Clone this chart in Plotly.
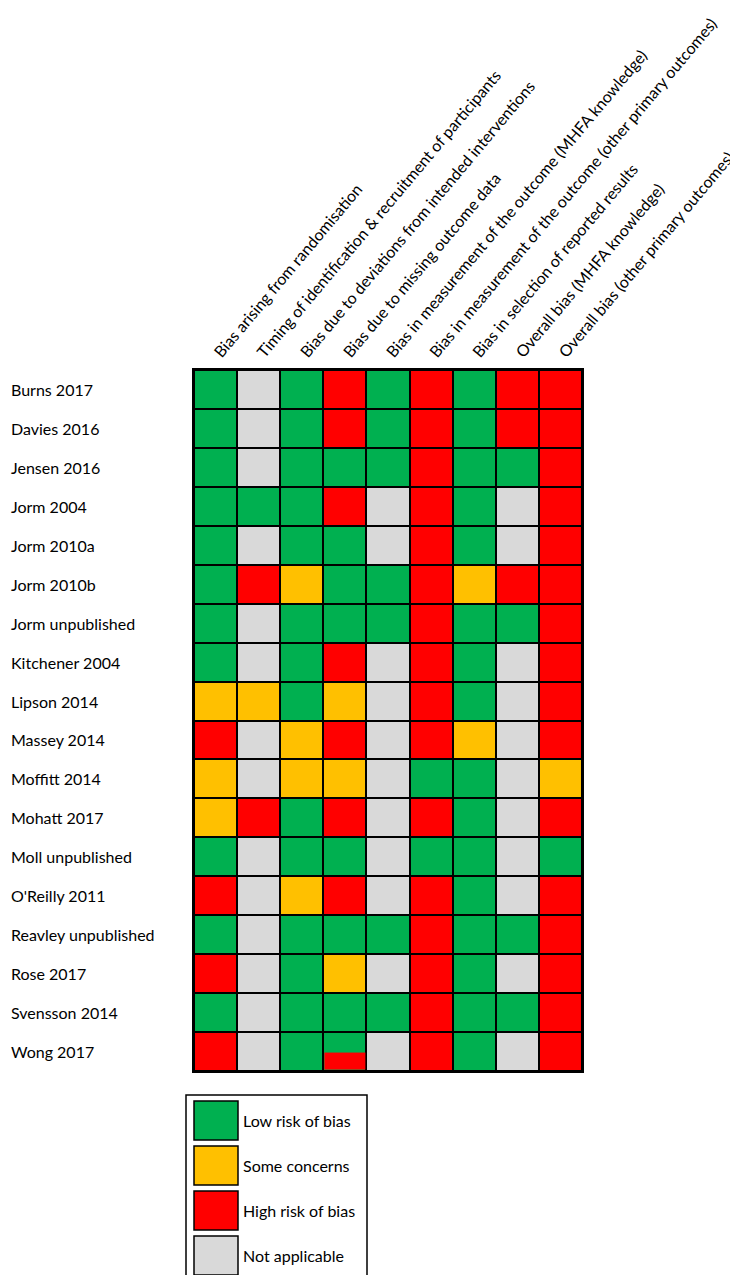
import plotly.graph_objects as go

# ---------------- data ----------------
domains = [
    "Bias arising from randomisation",
    "Timing of identification & recruitment of participants",
    "Bias due to deviations from intended interventions",
    "Bias due to missing outcome data",
    "Bias in measurement of the outcome (MHFA knowledge)",
    "Bias in measurement of the outcome (other primary outcomes)",
    "Bias in selection of reported results",
    "Overall bias (MHFA knowledge)",
    "Overall bias (other primary outcomes)",
]

studies = [
    "Burns 2017", "Davies 2016", "Jensen 2016", "Jorm 2004", "Jorm 2010a",
    "Jorm 2010b", "Jorm unpublished", "Kitchener 2004", "Lipson 2014",
    "Massey 2014", "Moffitt 2014", "Mohatt 2017", "Moll unpublished",
    "O'Reilly 2011", "Reavley unpublished", "Rose 2017", "Svensson 2014",
    "Wong 2017",
]

# L = low risk, S = some concerns, H = high risk, N = not applicable
# "L/H" = split cell (upper half low, lower half high)
ratings = [
    ["L", "N", "L", "H", "L", "H", "L", "H", "H"],
    ["L", "N", "L", "H", "L", "H", "L", "H", "H"],
    ["L", "N", "L", "L", "L", "H", "L", "L", "H"],
    ["L", "L", "L", "H", "N", "H", "L", "N", "H"],
    ["L", "N", "L", "L", "N", "H", "L", "N", "H"],
    ["L", "H", "S", "L", "L", "H", "S", "H", "H"],
    ["L", "N", "L", "L", "L", "H", "L", "L", "H"],
    ["L", "N", "L", "H", "N", "H", "L", "N", "H"],
    ["S", "S", "L", "S", "N", "H", "L", "N", "H"],
    ["H", "N", "S", "H", "N", "H", "S", "N", "H"],
    ["S", "N", "S", "S", "N", "L", "L", "N", "S"],
    ["S", "H", "L", "H", "N", "H", "L", "N", "H"],
    ["L", "N", "L", "L", "N", "L", "L", "N", "L"],
    ["H", "N", "S", "H", "N", "H", "L", "N", "H"],
    ["L", "N", "L", "L", "L", "H", "L", "L", "H"],
    ["H", "N", "L", "S", "N", "H", "L", "N", "H"],
    ["L", "N", "L", "L", "L", "H", "L", "L", "H"],
    ["H", "N", "L", "L/H", "N", "H", "L", "N", "H"],
]

legend_codes = ["L", "S", "H", "N"]
legend_labels = ["Low risk of bias", "Some concerns", "High risk of bias", "Not applicable"]

# ---------------- styles ----------------
colors = {"L": "#00B050", "S": "#FFC000", "H": "#FF0000", "N": "#D9D9D9"}
FONT = "Lato"
FS = 16
HFS = 16
W, H = 738, 1275
ML, MR, MT, MB = 186, 164, 362, 212
PW, PH = W - ML - MR, H - MT - MB

code_index = {c: i for i, c in enumerate(legend_codes)}
n = len(legend_codes)
colorscale = []
for i, c in enumerate(legend_codes):
    colorscale.append([i / n, colors[c]])
    colorscale.append([(i + 1) / n, colors[c]])

z_main = [[code_index[v.split("/")[0]] + 0.5 for v in row] for row in ratings]

fig = go.Figure()
fig.add_trace(go.Heatmap(
    z=z_main, x=list(range(len(domains))), y=list(range(len(studies))),
    colorscale=colorscale, zmin=0, zmax=n, showscale=False,
    xgap=2, ygap=2, hoverinfo="skip",
))

# split cells: lower half overlay
for r, row in enumerate(ratings):
    for c, v in enumerate(row):
        if "/" in v:
            lower = v.split("/")[1]
            fig.add_trace(go.Heatmap(
                z=[[code_index[lower] + 0.5]], x=[c - 0.5, c + 0.5], y=[r, r + 0.5],
                colorscale=colorscale, zmin=0, zmax=n, showscale=False,
                xgap=2, ygap=2, hoverinfo="skip",
            ))

# row labels (left aligned at page edge)
for r, s in enumerate(studies):
    fig.add_annotation(
        x=-(ML - 1) / PW, xref="paper", y=r, yref="y", text=s, showarrow=False,
        xanchor="left", yanchor="middle", font=dict(family=FONT, size=FS, color="black"),
    )

# legend
def px(xp):
    return (xp - ML) / PW

def py(yp):
    return (H - MB - yp) / PH

fig.add_shape(type="rect", xref="paper", yref="paper",
              x0=px(178), x1=px(359), y0=py(1274), y1=py(1087),
              line=dict(color="black", width=1.5), fillcolor="white")
for i, (c, lab) in enumerate(zip(legend_codes, legend_labels)):
    top = 1093 + i * 45
    fig.add_shape(type="rect", xref="paper", yref="paper",
                  x0=px(186), x1=px(230), y0=py(top + 39), y1=py(top),
                  line=dict(color="black", width=1.5), fillcolor=colors[c])
    fig.add_annotation(x=px(233), xref="paper", y=py(top + 19.5), yref="paper",
                       text=lab, showarrow=False, xanchor="left", yanchor="middle",
                       font=dict(family=FONT, size=FS, color="black"))

fig.update_xaxes(
    side="top", tickmode="array", tickvals=list(range(len(domains))), ticktext=domains,
    tickangle=-50, range=[-0.5, len(domains) - 0.5], showgrid=False, zeroline=False,
    showline=True, mirror=True, linecolor="black", linewidth=2, ticks="",
    ticklabeloverflow="allow",
    tickfont=dict(family=FONT, size=HFS, color="black"),
)
fig.update_yaxes(
    range=[len(studies) - 0.5, -0.5], showticklabels=False, showgrid=False,
    zeroline=False, showline=True, mirror=True, linecolor="black", linewidth=2, ticks="",
)
fig.update_layout(
    width=W, height=H, margin=dict(l=ML, r=MR, t=MT, b=MB, autoexpand=False),
    paper_bgcolor="white", plot_bgcolor="black", showlegend=False,
    font=dict(family=FONT, size=FS, color="black"),
)
fig.write_html("out.html")
